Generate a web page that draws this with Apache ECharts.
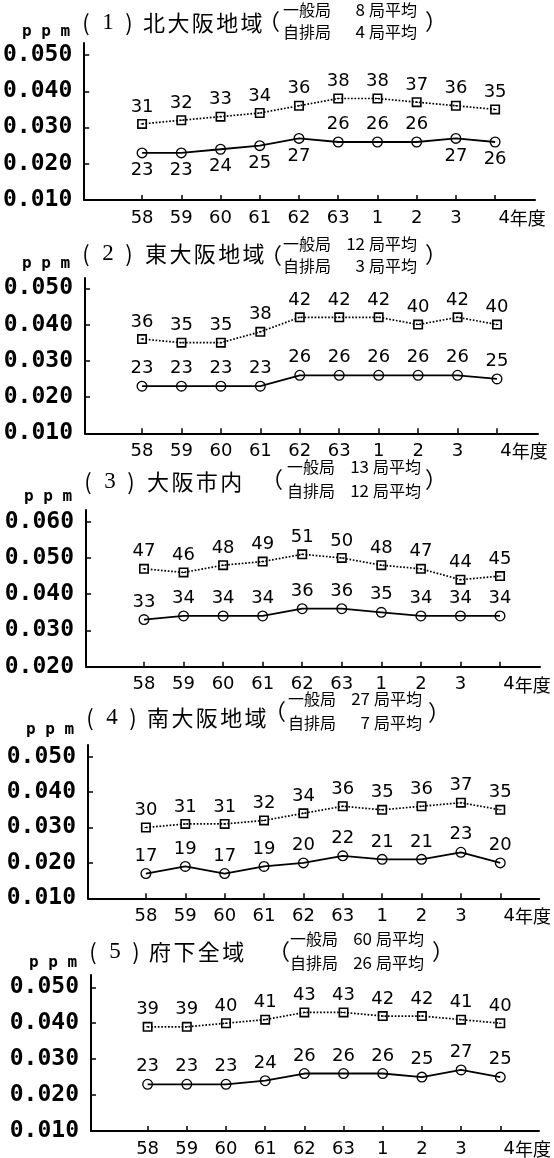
<!DOCTYPE html>
<html><head><meta charset="utf-8">
<script src="https://cdn.jsdelivr.net/npm/echarts@6/dist/echarts.min.js"></script>
<style>html,body{margin:0;padding:0;background:#fff}#c{width:554px;height:1158px}</style>
</head><body><div id="c"></div>
<script>
// ---- data (values in 0.001 ppm) ----
const categories = ['58','59','60','61','62','63','1','2','3','4'];
const lastSuffix = '年度';
const yTicksA = [10,20,30,40,50];
const yTicksB = [20,30,40,50,60];
const areaNames = ['北大阪地域','東大阪地域','大阪市内','南大阪地域','府下全域'];
const ippanCount = [8,12,13,27,60];   // 一般局 stations
const jihaiCount = [4,3,12,7,26];     // 自排局 stations

const p1Jihai = [31,32,33,34,36,38,38,37,36,35];
const p1Ippan = [23,23,24,25,27,26,26,26,27,26];
const p2Jihai = [36,35,35,38,42,42,42,40,42,40];
const p2Ippan = [23,23,23,23,26,26,26,26,26,25];
const p3Jihai = [47,46,48,49,51,50,48,47,44,45];
const p3Ippan = [33,34,34,34,36,36,35,34,34,34];
const p4Jihai = [30,31,31,32,34,36,35,36,37,35];
const p4Ippan = [17,19,17,19,20,22,21,21,23,20];
const p5Jihai = [39,39,40,41,43,43,42,42,41,40];
const p5Ippan = [23,23,23,24,26,26,26,25,27,25];
// which 一般局 labels sit below their point
const p1IppanBelow = [1,1,1,1,1,0,0,0,1,1];
const noneBelow = [0,0,0,0,0,0,0,0,0,0];

const jihaiSets = [p1Jihai,p2Jihai,p3Jihai,p4Jihai,p5Jihai];
const ippanSets = [p1Ippan,p2Ippan,p3Ippan,p4Ippan,p5Ippan];
const belowSets = [p1IppanBelow,noneBelow,noneBelow,noneBelow,noneBelow];
const tickSets = [yTicksA,yTicksA,yTicksB,yTicksA,yTicksA];

// ---- layout (pixels) ----
const L = [
 {ax:83, end:535, c0:141, c9:495, top:43,  tickTopY:55,    bottom:200,
  numX:83, kanjiX:143, tY:23,  openX:258, subX:283, sy1:10,  sy2:32,  closeX:425, closeY:21,  ppmX:22, ppmY:32},
 {ax:85, end:538, c0:142, c9:497, top:278, tickTopY:288.3, bottom:433.3,
  numX:83, kanjiX:145, tY:254, openX:260, subX:283, sy1:244, sy2:266, closeX:425, closeY:254, ppmX:22, ppmY:264},
 {ax:86, end:540, c0:144, c9:500, top:510, tickTopY:521.7, bottom:666.7,
  numX:85, kanjiX:147, tY:482, openX:261, subX:287, sy1:467, sy2:491, closeX:425, closeY:479, ppmX:24, ppmY:497},
 {ax:88, end:540, c0:146, c9:501, top:745, tickTopY:756.7, bottom:898.3,
  numX:87, kanjiX:147, tY:718, openX:264, subX:288, sy1:699, sy2:723, closeX:428, closeY:712, ppmX:26, ppmY:730},
 {ax:91, end:542, c0:148, c9:503, top:975, tickTopY:987.3, bottom:1131,
  numX:90, kanjiX:149, tY:952, openX:268, subX:290, sy1:939, sy2:963, closeX:432, closeY:951, ppmX:29, ppmY:963}
];

const SQ = 'path://M0,0H10V10H0Z M1.6,1.6V8.4H8.4V1.6Z M3.6,4.5H6.4V5.5H3.6Z';
const RING = 'path://M0,-10A10,10,0,1,1,0,10A10,10,0,1,1,0,-10Z M0,-7.6A7.6,7.6,0,1,0,0,7.6A7.6,7.6,0,1,0,0,-7.6Z';
const CJK = '"Noto Sans CJK JP"';
const idx = categories.map((c,i)=>i);

const grids=[], xAxes=[], yAxes=[], series=[], graphics=[];
L.forEach((g,i)=>{
  const ticks = tickSets[i];
  const lo = ticks[0], hi = ticks[ticks.length-1];
  const ppu = (g.bottom - g.tickTopY)/(hi-lo);
  const step = (g.c9-g.c0)/9;
  grids.push({left:g.ax, top:g.top, width:g.end-g.ax, height:g.bottom-g.top});
  xAxes.push({type:'value', gridIndex:i, min:(g.ax-g.c0)/step, max:(g.end-g.c0)/step,
    splitLine:{show:false},
    axisLine:{show:true,onZero:false,lineStyle:{color:'#000',width:2}},
    axisTick:{show:true,inside:true,length:5,customValues:idx,lineStyle:{color:'#000',width:1.5}},
    axisLabel:{customValues:idx, margin:9, color:'#000', fontFamily:'DejaVu Sans', fontSize:18,
      formatter:v=>{const k=Math.round(v); return k===categories.length-1 ? '{sp| }{n|'+categories[k]+'}{u|'+lastSuffix+'}' : categories[k];},
      rich:{sp:{width:54}, n:{fontFamily:'DejaVu Sans',fontSize:18,color:'#000'}, u:{fontFamily:CJK,fontSize:18,color:'#000'}}}
  });
  yAxes.push({type:'value', gridIndex:i, min:lo, max:hi+(g.tickTopY-g.top)/ppu,
    splitLine:{show:false},
    axisLine:{show:true,onZero:false,lineStyle:{color:'#000',width:2}},
    axisTick:{show:true,inside:true,length:5,customValues:ticks,lineStyle:{color:'#000',width:1.5}},
    axisLabel:{customValues:ticks, margin:12, color:'#000', fontFamily:'DejaVu Sans Mono', fontWeight:'bold', fontSize:23,
      formatter:v=>(v/1000).toFixed(3)}
  });
  const labelBase = {show:true, color:'#000', fontFamily:'DejaVu Sans', fontSize:18, formatter:p=>p.value[1]};
  series.push({type:'line', name:'自排局', xAxisIndex:i, yAxisIndex:i,
    data: jihaiSets[i].map((v,k)=>[k,v]),
    symbol:SQ, symbolSize:10, itemStyle:{color:'#000'},
    lineStyle:{color:'#000',width:1.7,type:'dotted'},
    label:Object.assign({position:'top',distance:3},labelBase), animation:false, z:3});
  series.push({type:'line', name:'一般局', xAxisIndex:i, yAxisIndex:i,
    data: ippanSets[i].map((v,k)=>({value:[k,v], label:{position: belowSets[i][k] ? 'bottom':'top'}})),
    symbol:RING, symbolSize:11, itemStyle:{color:'#000'},
    lineStyle:{color:'#000',width:1.8},
    label:Object.assign({distance:3},labelBase), animation:false, z:3});

  // texts
  const tf = '22px '+CJK;
  graphics.push({type:'text', x:g.numX+3, y:g.tY, style:{text:'(', font:tf, fill:'#000', verticalAlign:'middle', align:'center'}});
  graphics.push({type:'text', x:g.numX+25, y:g.tY, style:{text:String(i+1), font:'23px "Liberation Serif"', fill:'#000', verticalAlign:'middle', align:'center'}});
  graphics.push({type:'text', x:g.numX+46, y:g.tY, style:{text:')', font:tf, fill:'#000', verticalAlign:'middle', align:'center'}});
  areaNames[i].split('').forEach((ch,k)=>{
    graphics.push({type:'text', x:g.kanjiX + k*24.4, y:g.tY, style:{text:ch, font:tf, fill:'#000', verticalAlign:'middle'}});
  });
  graphics.push({type:'text', x:g.openX, y:(g.sy1+g.sy2)/2, style:{text:'（', font:tf, fill:'#000', verticalAlign:'middle'}});
  graphics.push({type:'text', x:g.closeX, y:g.closeY, style:{text:'）', font:tf, fill:'#000', verticalAlign:'middle'}});
  [['一般局',ippanCount[i],g.sy1],['自排局',jihaiCount[i],g.sy2]].forEach(([nm,n,yy])=>{
    graphics.push({type:'text', x:g.subX, y:yy, style:{text:nm, font:'16px '+CJK, fill:'#000', verticalAlign:'middle'}});
    graphics.push({type:'text', x:g.subX+82, y:yy, style:{text:String(n), font:'17px '+CJK, fill:'#000', verticalAlign:'middle', align:'right'}});
    graphics.push({type:'text', x:g.subX+86, y:yy, style:{text:'局平均', font:'16px '+CJK, fill:'#000', verticalAlign:'middle'}});
  });
  graphics.push({type:'text', x:g.ppmX, y:g.ppmY, style:{text:'p p m', font:'bold 16px "DejaVu Sans Mono"', fill:'#000', verticalAlign:'middle'}});
});

const chart = echarts.init(document.getElementById('c'), null, {renderer:'canvas'});
chart.setOption({backgroundColor:'#fff', animation:false, grid:grids, xAxis:xAxes, yAxis:yAxes, series, graphic:{elements:graphics}});
</script></body></html>
